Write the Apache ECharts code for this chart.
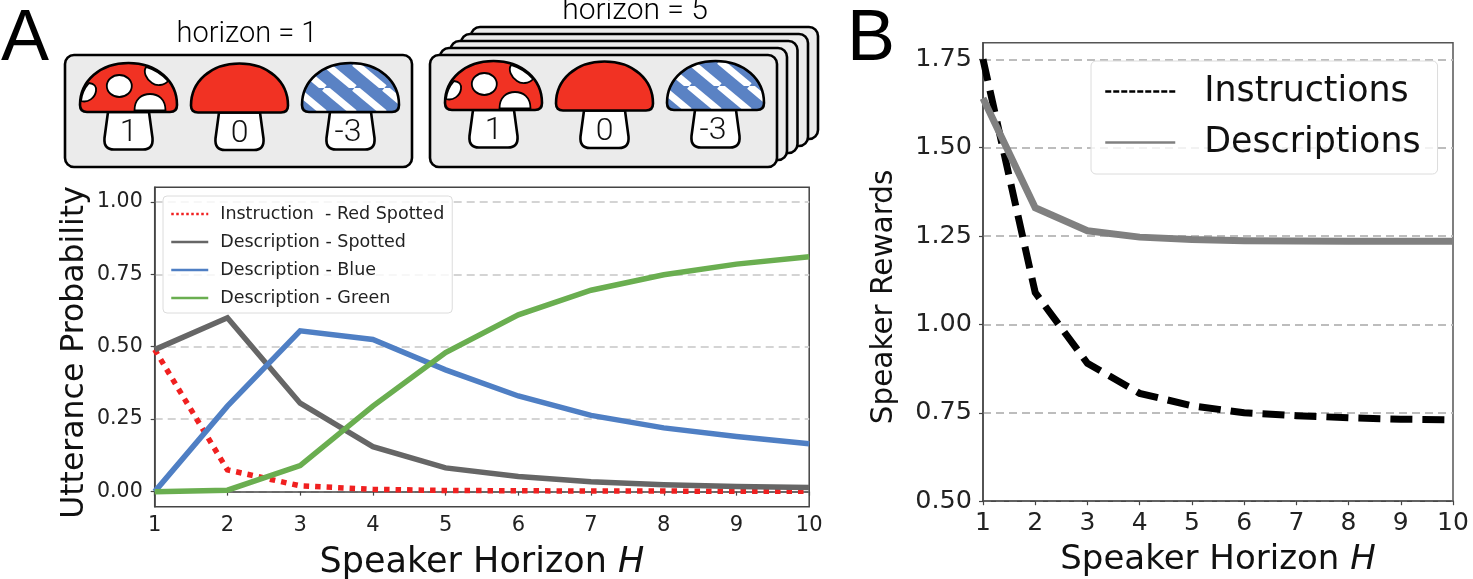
<!DOCTYPE html>
<html>
<head>
<meta charset="utf-8">
<style>
  html, body { margin: 0; padding: 0; background: #fff; }
  #chart { width: 1473px; height: 579px; }
</style>
<script src="https://cdn.jsdelivr.net/npm/echarts@6/dist/echarts.min.js"></script>
</head>
<body>
<div id="chart"></div>
<script>
const horizons = ['1', '2', '3', '4', '5', '6', '7', '8', '9', '10'];

const instructionRedSpotted = [0.49, 0.075, 0.02, 0.008, 0.004, 0.003, 0.002, 0.002, 0.001, 0.001];
const descriptionSpotted = [0.49, 0.60, 0.305, 0.155, 0.082, 0.052, 0.034, 0.024, 0.018, 0.014];
const descriptionBlue = [0, 0.295, 0.555, 0.525, 0.42, 0.33, 0.263, 0.22, 0.19, 0.165];
const descriptionGreen = [0, 0.005, 0.09, 0.295, 0.48, 0.61, 0.695, 0.748, 0.785, 0.81];

const rewardInstructions = [1.75, 1.09, 0.89, 0.805, 0.77, 0.75, 0.742, 0.736, 0.732, 0.73];
const rewardDescriptions = [1.64, 1.33, 1.265, 1.247, 1.24, 1.237, 1.236, 1.235, 1.235, 1.235];

const probabilityTicks = [0, 0.25, 0.5, 0.75, 1];
const rewardTicks = [0.5, 0.75, 1, 1.25, 1.5, 1.75];
const mushroomValues = ['1', '0', '-3'];

const SANS = 'DejaVu Sans';
const HELV = 'Liberation Sans';

// mushroom outlines, in the mushroom's own coordinates
const CAP = 'M0,42 C0,18 20,0 48.5,0 C77,0 97,18 97,42 Q97,49 90,49 L7,49 Q0,49 0,42 Z';
const STEM = 'M28,49 L24.5,75 Q23.5,86.5 34,86.5 L63,86.5 Q73.5,86.5 72.5,75 L69,49 Z';
const SPOT_LEFT = 'M1,38 Q2,28 9,20 Q17,21 16,28 C15,35 8,40 1,38 Z';
const SPOT_RIGHT = 'M66,4 Q79,8 88,18 C84,23 76,23 72,20 C66,16 63,9 66,4 Z';
const SPOT_BOTTOM = 'M54.5,47.5 C54.5,36 62,31 70,31 C78,31 85.5,36 85.5,47.5 Z';

const g = echarts.graphic;
g.registerShape('mCap', g.extendPath(CAP));
g.registerShape('mStem', g.extendPath(STEM));
g.registerShape('mSpotLeft', g.extendPath(SPOT_LEFT));
g.registerShape('mSpotRight', g.extendPath(SPOT_RIGHT));
g.registerShape('mSpotBottom', g.extendPath(SPOT_BOTTOM));

function stripeTile() {
  const w = 30;
  const h = 25;
  const c = document.createElement('canvas');
  c.width = w;
  c.height = h;
  const ctx = c.getContext('2d');
  ctx.fillStyle = '#5a82c4';
  ctx.fillRect(0, 0, w, h);
  ctx.strokeStyle = '#fff';
  ctx.lineWidth = 7;
  [-w, 0, w].forEach((i) => {
    ctx.beginPath();
    ctx.moveTo(i + 22.4, 0);
    ctx.lineTo(i + 22.4 + w, h);
    ctx.stroke();
  });
  return c;
}
const stripes = { image: stripeTile(), repeat: 'repeat' };

const outline = { stroke: '#000', lineWidth: 2.6 };
const spotStyle = { fill: '#fff', stroke: '#000', lineWidth: 1.8 };

function mushroom(x, y, kind, value) {
  const capFill = kind === 'striped' ? stripes : '#f13223';
  const children = [
    { type: 'mStem', style: { fill: '#fff', ...outline } },
    { type: 'mCap', style: { fill: capFill, ...outline } },
    {
      type: 'text',
      x: kind === 'striped' ? 46 : 48.5,
      y: 70,
      style: { text: value, font: '300 32px Roboto', fill: '#111', align: 'center', verticalAlign: 'middle' },
    },
  ];
  if (kind === 'spotted') {
    children.push(
      { type: 'mSpotLeft', style: spotStyle },
      { type: 'mSpotRight', style: spotStyle },
      { type: 'mSpotBottom', style: spotStyle },
      { type: 'ellipse', shape: { cx: 39.3, cy: 23, rx: 12.5, ry: 11 }, style: spotStyle },
    );
  }
  return { type: 'group', x, y, children };
}

function card(x, y) {
  return {
    type: 'rect',
    shape: { x, y, width: 347, height: 112, r: 9 },
    style: { fill: '#ebebeb', ...outline },
  };
}

function label(text, x, y, font) {
  return {
    type: 'text',
    x,
    y,
    style: { text, font, fill: '#000', align: 'center', verticalAlign: 'middle' },
  };
}

g.registerShape('ellipse', g.Ellipse);

const illustration = [
  label('A', 25, 40, `72px "${HELV}"`),
  label('B', 871, 40, `72px "${HELV}"`),
  label('horizon = 1', 247, 35, '300 29px Roboto'),
  label('horizon = 5', 635, 11, '300 30px Roboto'),
  card(65, 55),
  mushroom(80, 63, 'spotted', mushroomValues[0]),
  mushroom(191, 63.5, 'plain', mushroomValues[1]),
  mushroom(302, 63, 'striped', mushroomValues[2]),
  card(471, 27),
  card(461, 34),
  card(450.5, 41),
  card(440, 48),
  card(430, 55),
  mushroom(445, 61, 'spotted', mushroomValues[0]),
  mushroom(556, 61.5, 'plain', mushroomValues[1]),
  mushroom(667, 61, 'striped', mushroomValues[2]),
];

function lineSeries(name, data, color, width, type, xAxisIndex, z) {
  return {
    name,
    type: 'line',
    data,
    xAxisIndex,
    yAxisIndex: xAxisIndex,
    showSymbol: false,
    symbol: 'none',
    z,
    lineStyle: { color, width, type, cap: 'butt', join: 'miter', opacity: 1 },
    itemStyle: { color },
  };
}

function xAxis(gridIndex, nameSize, nameGap, tickSize, margin) {
  return {
    type: 'category',
    gridIndex,
    data: horizons,
    boundaryGap: false,
    name: 'Speaker Horizon {i|H}',
    nameLocation: 'middle',
    nameGap,
    nameTextStyle: {
      fontFamily: SANS,
      fontSize: nameSize,
      color: '#111',
      rich: { i: { fontFamily: SANS, fontSize: nameSize, fontStyle: 'italic', color: '#111' } },
    },
    axisLine: { lineStyle: { color: '#444', width: 1.5 } },
    axisTick: { show: true, length: 4, alignWithLabel: true, lineStyle: { color: '#444', width: 1.2 } },
    axisLabel: { fontFamily: SANS, fontSize: tickSize, color: '#222', margin, interval: 0 },
    splitLine: { show: false },
  };
}

function yAxis(gridIndex, name, min, max, ticks, tickSize, margin, nameSize, nameGap, namePadding, gridColor) {
  return {
    type: 'value',
    gridIndex,
    name,
    min,
    max,
    nameLocation: 'middle',
    nameGap,
    nameTextStyle: { fontFamily: SANS, fontSize: nameSize, color: '#111', padding: namePadding },
    axisLine: { show: true, lineStyle: { color: '#444', width: 1.5 } },
    axisTick: { show: true, length: 4, customValues: ticks, lineStyle: { color: '#444', width: 1.2 } },
    axisLabel: {
      fontFamily: SANS,
      fontSize: tickSize,
      color: '#222',
      margin,
      customValues: ticks,
      formatter: (v) => v.toFixed(2),
    },
    splitLine: { show: true, lineStyle: { color: gridColor, width: 2, type: [8, 5] } },
  };
}

const option = {
  animation: false,
  backgroundColor: '#fff',
  graphic: { elements: illustration },
  grid: [
    { left: 154.7, top: 187.3, width: 654.5, height: 319.4, outerBoundsMode: 'none', show: true, borderColor: '#444', borderWidth: 1.5, backgroundColor: 'transparent' },
    { left: 983, top: 42.7, width: 470, height: 458.5, outerBoundsMode: 'none', show: true, borderColor: '#555', borderWidth: 1.5, backgroundColor: 'transparent' },
  ],
  xAxis: [xAxis(0, 35, 39, 21, 8), xAxis(1, 34, 42, 25, 10)],
  yAxis: [
    yAxis(0, 'Utterance Probability', -0.052, 1.05, probabilityTicks, 20.5, 12, 31.5, 64, [0, 11, 0, 0], '#d4d4d4'),
    yAxis(1, 'Speaker Rewards', 0.5, 1.797, rewardTicks, 25.5, 11, 29.5, 84, [0, 50, 0, 0], '#bdbdbd'),
  ],
  legend: [
    {
      data: [
        { name: 'Instruction  - Red Spotted', lineStyle: { type: [2.5, 2.5] } },
        'Description - Spotted',
        'Description - Blue',
        'Description - Green',
      ],
      orient: 'vertical',
      left: 163,
      top: 196,
      padding: [9, 8, 6, 7],
      itemWidth: 37,
      itemHeight: 16,
      itemGap: 10,
      selectedMode: false,
      backgroundColor: 'rgba(255,255,255,0.8)',
      borderColor: '#dcdcdc',
      borderWidth: 1,
      borderRadius: 4,
      textStyle: { fontFamily: SANS, fontSize: 17.5, color: '#222', padding: [0, 0, 0, 7] },
      itemStyle: { opacity: 0 },
      lineStyle: { width: 2.5 },
      z: 20,
    },
    {
      data: [
        { name: 'Instructions', lineStyle: { type: [6, 2] } },
        'Descriptions',
      ],
      orient: 'vertical',
      left: 1091,
      top: 61,
      padding: [13, 17, 14, 13],
      itemWidth: 70,
      itemHeight: 34,
      itemGap: 16,
      selectedMode: false,
      backgroundColor: 'rgba(255,255,255,0.8)',
      borderColor: '#dcdcdc',
      borderWidth: 1,
      borderRadius: 5,
      textStyle: { fontFamily: SANS, fontSize: 34.8, color: '#111', padding: [0, 0, 0, 24] },
      itemStyle: { opacity: 0 },
      lineStyle: { width: 2.5 },
      z: 20,
    },
  ],
  series: [
    lineSeries('Instruction  - Red Spotted', instructionRedSpotted, '#f02020', 5.5, [5.5, 6], 0, 2),
    lineSeries('Description - Spotted', descriptionSpotted, '#666666', 5.5, 'solid', 0, 3),
    lineSeries('Description - Blue', descriptionBlue, '#4f7fc4', 5.5, 'solid', 0, 4),
    lineSeries('Description - Green', descriptionGreen, '#6aae50', 5.5, 'solid', 0, 5),
    lineSeries('Instructions', rewardInstructions, '#000000', 7, [22, 10], 1, 2),
    lineSeries('Descriptions', rewardDescriptions, '#808080', 7, 'solid', 1, 3),
  ],
};

echarts.init(document.getElementById('chart')).setOption(option);
</script>
</body>
</html>
